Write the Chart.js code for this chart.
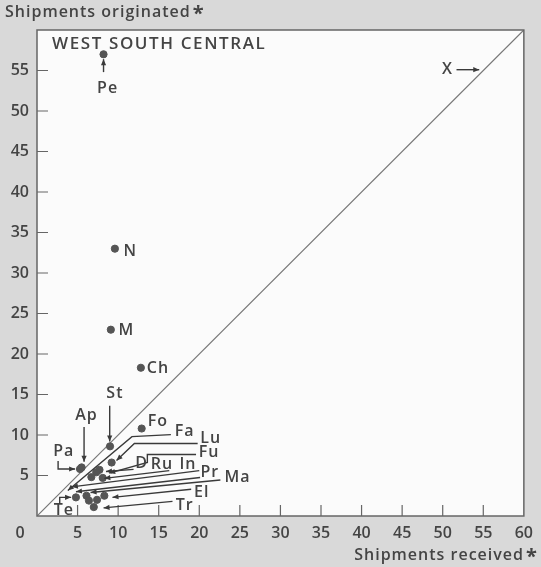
<!DOCTYPE html>
<html>
<head>
<meta charset="utf-8">
<script src="https://cdn.jsdelivr.net/npm/chart.js@4.4.1/dist/chart.umd.min.js"></script>
<style>
  html, body { margin: 0; padding: 0; background: #d9d9d9; }
  #wrap { width: 541px; height: 567px; }
</style>
</head>
<body>
<div id="wrap"><canvas id="chart" width="541" height="567"></canvas></div>
<script>
// commodity codes and their shipments (received, originated)
const codes = ['Pe', 'N', 'M', 'Ch', 'Fo', 'St', 'Ap', 'Pa', 'Lu', 'Fu', 'D', 'Ru', 'Fa', 'In', 'Pr', 'Ma', 'El', 'Tr', 'Te'];
const received = [8.2, 9.6, 9.1, 12.8, 12.9, 9.0, 5.5, 5.3, 9.2, 7.7, 7.3, 8.1, 6.7, 6.1, 6.4, 7.4, 8.3, 7.0, 4.8];
const originated = [57.0, 33.0, 23.0, 18.3, 10.8, 8.6, 6.0, 5.8, 6.6, 5.7, 5.4, 4.7, 4.8, 2.5, 1.9, 2.0, 2.5, 1.1, 2.3];
const tickValues = [0, 5, 10, 15, 20, 25, 30, 35, 40, 45, 50, 55, 60];

const INK = '#444';
const FONT = '"Open Sans", Lato, sans-serif';

// label placement, in axis units: text position and leader path (last point gets the arrowhead)
const labelLayout = [
    { t: 'Pe', at: [8.7, 52.8], path: [[8.2, 54.8], [8.2, 56.4]] },
    { t: 'N', at: [11.5, 32.7] },
    { t: 'M', at: [11.0, 22.9] },
    { t: 'Ch', at: [14.9, 18.2] },
    { t: 'Fo', at: [14.9, 11.7] },
    { t: 'St', at: [9.6, 15.1], path: [[8.96, 13.6], [8.96, 9.2]] },
    { t: 'Ap', at: [6.1, 12.4], path: [[5.8, 11.0], [5.8, 6.7]] },
    { t: 'Pa', at: [3.3, 8.0], path: [[2.6, 6.8], [2.6, 5.8], [4.7, 5.8]] },
    { t: 'Fa', at: [18.2, 10.4], path: [[16.5, 10.05], [11.7, 9.8], [3.8, 3.15]] },
    { t: 'Lu', at: [21.4, 9.6], path: [[19.8, 8.95], [12.0, 8.95], [9.8, 6.85]] },
    { t: 'Fu', at: [21.2, 7.85], path: [[19.6, 7.6], [13.6, 7.6], [13.6, 6.6], [8.9, 5.3]] },
    { t: 'D', at: [12.9, 6.5], path: [[11.9, 5.75], [8.5, 5.5]] },
    { t: 'Ru', at: [15.4, 6.35], path: [[16.3, 5.6], [8.3, 4.65]] },
    { t: 'In', at: [18.6, 6.35], path: [[20.0, 5.6], [4.3, 3.6]] },
    { t: 'Pr', at: [21.3, 5.35], path: [[20.1, 4.75], [4.8, 3.0]] },
    { t: 'Ma', at: [24.7, 4.75], path: [[22.6, 4.45], [6.6, 2.9]] },
    { t: 'El', at: [20.3, 2.9], path: [[19.0, 3.3], [9.3, 2.3]] },
    { t: 'Tr', at: [18.2, 1.3], path: [[16.7, 1.8], [8.2, 1.0]] },
    { t: 'Te', at: [3.3, 0.7], path: [[2.8, 1.5], [2.8, 2.3], [4.2, 2.3]] },
    { t: 'X', at: [50.6, 55.1], path: [[51.7, 55.1], [54.5, 55.1]] }
];

function arrow(ctx, x1, y1, x2, y2) {
    const a = Math.atan2(y2 - y1, x2 - x1);
    const l = 6, w = 2.6;
    ctx.beginPath();
    ctx.moveTo(x2, y2);
    ctx.lineTo(x2 - l * Math.cos(a) + w * Math.sin(a), y2 - l * Math.sin(a) - w * Math.cos(a));
    ctx.lineTo(x2 - l * Math.cos(a) - w * Math.sin(a), y2 - l * Math.sin(a) + w * Math.cos(a));
    ctx.closePath();
    ctx.fill();
}

const decor = {
    id: 'decor',
    beforeDraw(chart) {
        const { ctx, chartArea: a } = chart;
        ctx.save();
        ctx.fillStyle = '#d9d9d9';
        ctx.fillRect(0, 0, chart.width, chart.height);
        ctx.fillStyle = '#fbfbfb';
        ctx.fillRect(a.left, a.top, a.right - a.left, a.bottom - a.top);
        ctx.restore();
    },
    afterDraw(chart) {
        const { ctx, chartArea: a, scales: { x, y } } = chart;
        ctx.save();
        // frame
        ctx.strokeStyle = '#666';
        ctx.lineWidth = 1.5;
        ctx.strokeRect(a.left, a.top, a.right - a.left, a.bottom - a.top);
        // inward ticks
        ctx.lineWidth = 1.2;
        ctx.beginPath();
        tickValues.forEach(v => {
            if (v > 0 && v < 60) {
                const px = x.getPixelForValue(v);
                ctx.moveTo(px, a.bottom);
                ctx.lineTo(px, a.bottom - 11);
                const py = y.getPixelForValue(v);
                ctx.moveTo(a.left, py);
                ctx.lineTo(a.left + 11, py);
            }
        });
        ctx.stroke();

        ctx.fillStyle = INK;
        ctx.font = '600 16px ' + FONT;
        ctx.textBaseline = 'middle';
        ctx.textAlign = 'center';
        ctx.fillText('0', x.getPixelForValue(0) - 17, 533);

        ctx.letterSpacing = '1px';
        ctx.font = '600 16px ' + FONT;
        ctx.textAlign = 'left';
        ctx.fillText('Shipments originated', 5, 12);
        const w1 = ctx.measureText('Shipments originated').width;
        ctx.font = 'bold 20px ' + FONT;
        ctx.fillText('*', 5 + w1 + 2, 14);
        ctx.font = '600 16px ' + FONT;
        ctx.textAlign = 'right';
        ctx.fillText('Shipments received', 524, 555);
        ctx.font = 'bold 20px ' + FONT;
        ctx.textAlign = 'left';
        ctx.fillText('*', 526, 557);

        ctx.letterSpacing = '1.6px';
        ctx.font = '600 17px ' + FONT;
        ctx.fillText('WEST SOUTH CENTRAL', x.getPixelForValue(1.85), y.getPixelForValue(58.2));

        // labels and leaders
        ctx.letterSpacing = '1px';
        ctx.font = '600 16px ' + FONT;
        ctx.strokeStyle = '#3a3a3a';
        ctx.lineWidth = 1.4;
        labelLayout.forEach(l => {
            ctx.fillStyle = INK;
            ctx.textAlign = 'center';
            ctx.fillText(l.t, x.getPixelForValue(l.at[0]), y.getPixelForValue(l.at[1]));
            if (!l.path) return;
            const pts = l.path.map(p => [x.getPixelForValue(p[0]), y.getPixelForValue(p[1])]);
            ctx.beginPath();
            pts.forEach((p, i) => i ? ctx.lineTo(p[0], p[1]) : ctx.moveTo(p[0], p[1]));
            ctx.stroke();
            const n = pts.length;
            ctx.fillStyle = '#3a3a3a';
            arrow(ctx, pts[n - 2][0], pts[n - 2][1], pts[n - 1][0], pts[n - 1][1]);
        });
        ctx.restore();
    }
};

const axisTicks = {
    color: INK,
    font: { family: FONT, size: 16, weight: '600' }
};

new Chart(document.getElementById('chart'), {
    type: 'scatter',
    data: {
        datasets: [
            {
                label: 'Commodities',
                data: codes.map((c, i) => ({ x: received[i], y: originated[i] })),
                backgroundColor: '#555',
                borderColor: '#555',
                pointRadius: 3.6,
                order: 1
            },
            {
                label: 'Equal',
                type: 'line',
                data: [{ x: 0, y: 0 }, { x: 60, y: 60 }],
                borderColor: '#777',
                borderWidth: 1.2,
                pointRadius: 0,
                fill: false,
                order: 2
            }
        ]
    },
    options: {
        responsive: false,
        animation: false,
        layout: { padding: { left: 0, right: 15, top: 30, bottom: 0 } },
        plugins: { legend: { display: false }, tooltip: { enabled: false } },
        scales: {
            x: {
                type: 'linear', min: 0, max: 60,
                afterFit: s => { s.height = 51; },
                afterBuildTicks: s => { s.ticks = tickValues.map(v => ({ value: v })); },
                grid: { display: false, drawTicks: false },
                border: { display: false },
                ticks: { ...axisTicks, padding: 8, maxRotation: 0, autoSkip: false,
                    callback: v => (v === 0 ? '' : v) }
            },
            y: {
                type: 'linear', min: 0, max: 60,
                afterFit: s => { s.width = 37; },
                afterBuildTicks: s => { s.ticks = tickValues.map(v => ({ value: v })); },
                grid: { display: false, drawTicks: false },
                border: { display: false },
                ticks: { ...axisTicks, padding: 8, autoSkip: false,
                    callback: v => (v === 0 || v === 60 ? '' : v) }
            }
        }
    },
    plugins: [decor]
});
</script>
</body>
</html>
